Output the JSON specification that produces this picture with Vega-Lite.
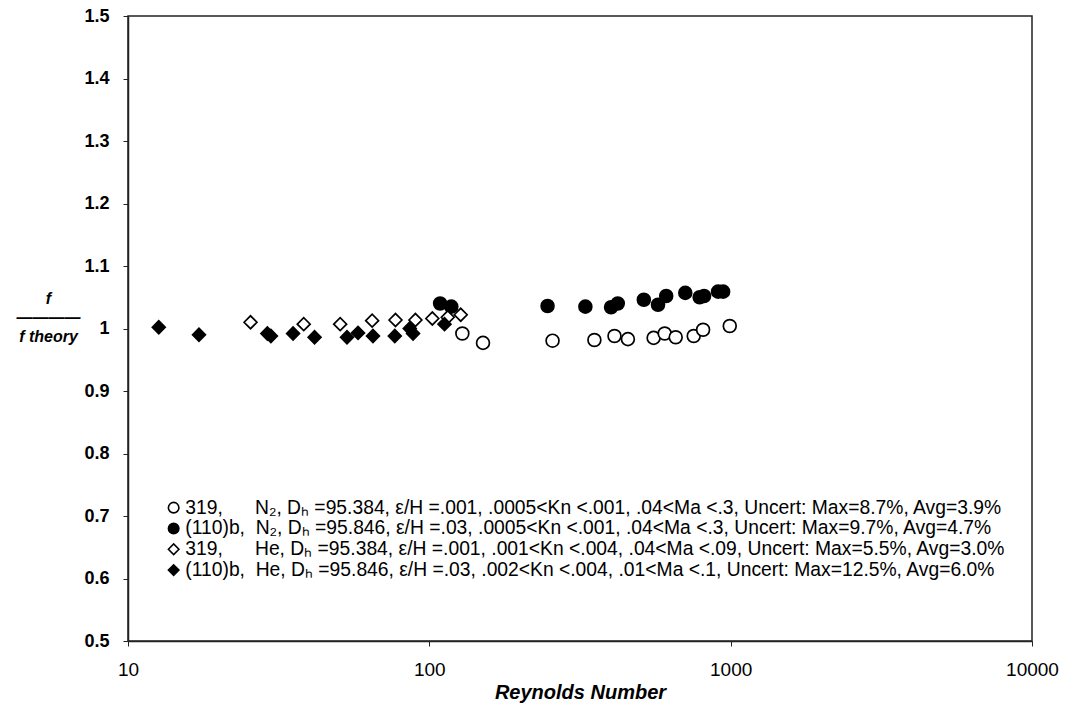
{
  "$schema": "https://vega.github.io/schema/vega-lite/v6.json",
  "width": 904,
  "height": 625,
  "autosize": {"type": "none"},
  "padding": {"left": 128, "top": 16, "right": 39, "bottom": 78},
  "background": "white",
  "config": {
    "font": "Liberation Sans",
    "view": {"stroke": "#222", "strokeWidth": 1.5}
  },
  "datasets": {
    "labels": [
      {"s": "A", "label": "319,\u00a0\u00a0\u00a0\u00a0\u00a0 N\u2082, D\u2095 =95.384, \u03b5/H =.001, .0005<Kn <.001, .04<Ma <.3, Uncert: Max=8.7%, Avg=3.9%"},
      {"s": "B", "label": "(110)b,\u00a0 N\u2082, D\u2095 =95.846, \u03b5/H =.03, .0005<Kn <.001, .04<Ma <.3, Uncert: Max=9.7%, Avg=4.7%"},
      {"s": "C", "label": "319,\u00a0\u00a0\u00a0\u00a0\u00a0 He, D\u2095 =95.384, \u03b5/H =.001, .001<Kn <.004, .04<Ma <.09, Uncert: Max=5.5%, Avg=3.0%"},
      {"s": "D", "label": "(110)b,\u00a0 He, D\u2095 =95.846, \u03b5/H =.03, .002<Kn <.004, .01<Ma <.1, Uncert: Max=12.5%, Avg=6.0%"}
    ]
  },
  "data": {
    "values": [
      {"s": "A", "re": 128.7, "ratio": 0.992},
      {"s": "A", "re": 150.7, "ratio": 0.977},
      {"s": "A", "re": 256.4, "ratio": 0.9805},
      {"s": "A", "re": 353, "ratio": 0.9816},
      {"s": "A", "re": 411.6, "ratio": 0.988},
      {"s": "A", "re": 456, "ratio": 0.983},
      {"s": "A", "re": 555, "ratio": 0.985},
      {"s": "A", "re": 604, "ratio": 0.992},
      {"s": "A", "re": 657, "ratio": 0.986},
      {"s": "A", "re": 754, "ratio": 0.988},
      {"s": "A", "re": 810, "ratio": 0.998},
      {"s": "A", "re": 993, "ratio": 1.004},
      {"s": "B", "re": 108.6, "ratio": 1.040},
      {"s": "B", "re": 118.3, "ratio": 1.035},
      {"s": "B", "re": 246.8, "ratio": 1.036},
      {"s": "B", "re": 329.5, "ratio": 1.035},
      {"s": "B", "re": 401, "ratio": 1.034},
      {"s": "B", "re": 422, "ratio": 1.040},
      {"s": "B", "re": 515, "ratio": 1.046},
      {"s": "B", "re": 574, "ratio": 1.038},
      {"s": "B", "re": 611, "ratio": 1.052},
      {"s": "B", "re": 707, "ratio": 1.057},
      {"s": "B", "re": 789, "ratio": 1.050},
      {"s": "B", "re": 816, "ratio": 1.052},
      {"s": "B", "re": 908, "ratio": 1.059},
      {"s": "B", "re": 944, "ratio": 1.059},
      {"s": "C", "re": 25.5, "ratio": 1.010},
      {"s": "C", "re": 38.3, "ratio": 1.007},
      {"s": "C", "re": 50.6, "ratio": 1.007},
      {"s": "C", "re": 64.6, "ratio": 1.0125},
      {"s": "C", "re": 77.2, "ratio": 1.0136},
      {"s": "C", "re": 89.9, "ratio": 1.0136},
      {"s": "C", "re": 102.3, "ratio": 1.016},
      {"s": "C", "re": 115.1, "ratio": 1.018},
      {"s": "C", "re": 127.1, "ratio": 1.022},
      {"s": "D", "re": 12.65, "ratio": 1.002},
      {"s": "D", "re": 17.2, "ratio": 0.990},
      {"s": "D", "re": 29.0, "ratio": 0.992},
      {"s": "D", "re": 29.8, "ratio": 0.988},
      {"s": "D", "re": 35.3, "ratio": 0.992},
      {"s": "D", "re": 41.6, "ratio": 0.986},
      {"s": "D", "re": 53.3, "ratio": 0.986},
      {"s": "D", "re": 58.0, "ratio": 0.993},
      {"s": "D", "re": 65.0, "ratio": 0.988},
      {"s": "D", "re": 76.8, "ratio": 0.988},
      {"s": "D", "re": 86.1, "ratio": 1.000},
      {"s": "D", "re": 88.3, "ratio": 0.992},
      {"s": "D", "re": 112.3, "ratio": 1.007}
    ]
  },
  "transform": [
    {"lookup": "s", "from": {"data": {"name": "labels"}, "key": "s", "fields": ["label"]}}
  ],
  "mark": {"type": "point", "filled": true, "opacity": 1, "strokeWidth": 1.7, "stroke": "black", "size": 165},
  "encoding": {
    "x": {
      "field": "re",
      "type": "quantitative",
      "scale": {"type": "log", "domain": [10, 10000], "nice": false},
      "axis": {
        "values": [10, 100, 1000, 10000],
        "format": "d",
        "grid": false,
        "domainColor": "#222",
        "domainWidth": 1.5,
        "tickColor": "#222",
        "tickSize": 5,
        "labelFontSize": 19,
        "labelColor": "black",
        "labelPadding": 14,
        "labelFlush": false,
        "title": "Reynolds Number",
        "titleFontSize": 20,
        "titleFontStyle": "italic",
        "titleFontWeight": "bold",
        "titleColor": "black",
        "titlePadding": 3
      }
    },
    "y": {
      "field": "ratio",
      "type": "quantitative",
      "scale": {"domain": [0.5, 1.5], "nice": false, "zero": false},
      "axis": {
        "values": [0.5, 0.6, 0.7, 0.8, 0.9, 1.0, 1.1, 1.2, 1.3, 1.4, 1.5],
        "labelExpr": "format(datum.value, '.1~f')",
        "grid": false,
        "domainColor": "#222",
        "domainWidth": 1.5,
        "tickColor": "#222",
        "tickSize": 5,
        "labelFontSize": 18,
        "labelFontWeight": "bold",
        "labelColor": "black",
        "labelPadding": 14,
        "labelFlush": false,
        "title": ["f", "————", "f theory"],
        "titleAngle": 0,
        "titleAlign": "center",
        "titleBaseline": "middle",
        "titleX": -80,
        "titleY": 282,
        "titleLineHeight": 19,
        "titleFontSize": 16,
        "titleFontStyle": "italic",
        "titleFontWeight": "bold",
        "titleColor": "black"
      }
    },
    "shape": {
      "field": "label",
      "type": "nominal",
      "sort": null,
      "scale": {"range": ["circle", "circle", "diamond", "diamond"]},
      "legend": {
        "title": null,
        "orient": "none",
        "legendX": 36,
        "legendY": 482,
        "labelFontSize": 19.3,
        "labelColor": "black",
        "labelLimit": 1500,
        "labelOffset": 2,
        "symbolSize": 110,
        "symbolStrokeColor": "black",
        "symbolStrokeWidth": 1.6,
        "rowPadding": 0.8
      }
    },
    "color": {
      "field": "label",
      "type": "nominal",
      "sort": null,
      "scale": {"range": ["white", "black", "white", "black"]},
      "legend": {
        "title": null,
        "orient": "none",
        "legendX": 36,
        "legendY": 482,
        "labelFontSize": 19.3,
        "labelColor": "black",
        "labelLimit": 1500,
        "labelOffset": 2,
        "symbolSize": 110,
        "symbolStrokeColor": "black",
        "symbolStrokeWidth": 1.6,
        "rowPadding": 0.8
      }
    }
  }
}
